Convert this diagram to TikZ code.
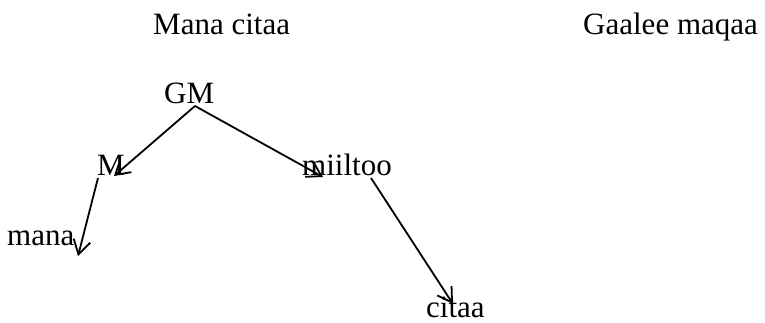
\documentclass[tikz,border=0pt]{standalone}
\usepackage{fontspec}
\setmainfont{Liberation Serif}
\usetikzlibrary{arrows.meta}
\begin{document}
\begin{tikzpicture}[x=1pt,y=-1pt,
  lbl/.style={inner sep=0pt,anchor=base west,font=\fontsize{31}{36}\selectfont},
  arr/.style={line width=1.8pt,-{Straight Barb[length=14pt,width=17pt,line width=1.8pt]}}]
\useasboundingbox (0,0) rectangle (765,323);
\node[lbl] (t1) at (153,35) {Mana citaa};
\node[lbl] (t2) at (583,35) {Gaalee maqaa};
\node[lbl] (gm) at (164,104) {GM};
\node[lbl] (m) at (97,176) {M};
\node[lbl] (mi) at (302,176) {miiltoo};
\node[lbl] (ma) at (7,245) {mana};
\node[lbl] (ci) at (426,317) {citaa};
\coordinate (gmS) at (195,106);
\coordinate (mT) at (114,176);
\coordinate (miT) at (323,177);
\coordinate (mS) at (98,178);
\coordinate (maT) at (78,256);
\coordinate (miS) at (371,178);
\coordinate (ciT) at (453,304);
\draw[arr] (gmS) -- (mT);
\draw[arr] (gmS) -- (miT);
\draw[arr] (mS) -- (maT);
\draw[arr] (miS) -- (ciT);
\end{tikzpicture}
\end{document}
